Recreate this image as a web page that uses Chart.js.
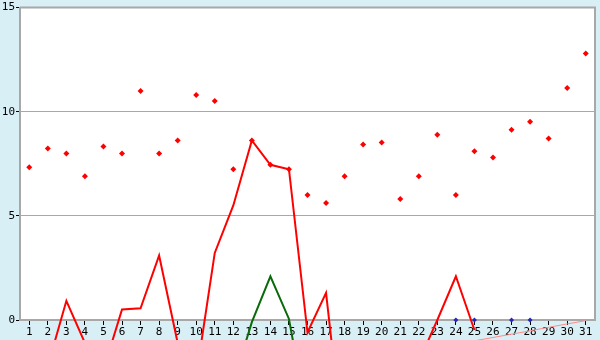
<!DOCTYPE html>
<html>
<head>
<meta charset="utf-8">
<script src="https://cdn.jsdelivr.net/npm/chart.js@4"></script>
<style>
  html, body { margin: 0; padding: 0; background: #d9eff6; }
  #wrap { width: 600px; height: 340px; }
</style>
</head>
<body>
<div id="wrap"><canvas id="chart" width="600" height="340"></canvas></div>
<script>
// data
const days = ['1','2','3','4','5','6','7','8','9','10','11','12','13','14','15','16','17','18','19','20','21','22','23','24','25','26','27','28','29','30','31'];
const redPoints = [7.33, 8.24, 8.0, 6.9, 8.33, 8.0, 11.0, 8.0, 8.62, 10.8, 10.52, 7.24, 8.62, 7.45, 7.24, 6.0, 5.62, 6.9, 8.43, 8.52, 5.81, 6.9, 8.9, 6.0, 8.1, 7.8, 9.14, 9.52, 8.71, 11.14, 12.8];
const redLine = [null, -2.2, 0.92, -1.1, -2.4, 0.51, 0.56, 3.1, -1.1, -2.7, 3.22, 5.5, 8.62, 7.45, 7.24, -0.6, 1.3, -6.6, -4, -3.5, -3, -2, 0.0, 2.1, -0.48, null, null, null, null, null, null];
const greenLine = [null, null, null, null, null, null, null, null, null, null, null, -3, -0.1, 2.1, 0.05, -4.8, null, null, null, null, null, null, null, null, null, null, null, null, null, null, null];
const bluePoints = [null, null, null, null, null, null, null, null, null, null, null, null, null, null, null, null, null, null, null, null, null, null, null, 0, 0, null, 0, 0, null, null, null];
const pinkLine = [null, null, null, null, null, null, null, null, null, null, null, null, null, null, null, null, null, null, null, null, null, null, null, null, -1.0, -0.84, -0.68, -0.52, -0.35, -0.19, -0.03];
const yTicks = [0, 5, 10, 15];

const axisGray = '#a8a8a8';
const tickFont = { family: 'DejaVu Sans Mono', size: 11 };

// white plot area and frame
const plotBox = {
  id: 'plotBox',
  beforeDraw(chart) {
    const { ctx, chartArea: a } = chart;
    ctx.save();
    ctx.fillStyle = '#ffffff';
    ctx.fillRect(a.left, a.top, a.right - a.left, a.bottom - a.top);
    ctx.restore();
  },
  afterDatasetsDraw(chart) {
    const { ctx, chartArea: a } = chart;
    ctx.save();
    ctx.strokeStyle = axisGray;
    ctx.lineWidth = 2;
    ctx.beginPath();
    ctx.moveTo(a.left, a.top);
    ctx.lineTo(a.right, a.top);
    ctx.lineTo(a.right, a.bottom);
    ctx.stroke();
    ctx.restore();
  }
};

new Chart(document.getElementById('chart'), {
  type: 'line',
  data: {
    labels: days,
    datasets: [
      {
        data: pinkLine,
        borderColor: '#ff8a8a',
        borderWidth: 1,
        pointRadius: 0,
        clip: false,
        order: 5
      },
      {
        data: redLine,
        borderColor: '#ff0000',
        borderWidth: 2,
        pointRadius: 0,
        clip: false,
        order: 4
      },
      {
        data: greenLine,
        borderColor: '#0a6a0a',
        borderWidth: 2,
        pointRadius: 0,
        clip: false,
        order: 3
      },
      {
        data: redPoints,
        showLine: false,
        pointStyle: 'rectRot',
        pointRadius: 3,
        pointBackgroundColor: '#ff0000',
        pointBorderColor: '#ff0000',
        pointBorderWidth: 0,
        order: 2
      },
      {
        data: bluePoints,
        showLine: false,
        pointStyle: 'rectRot',
        pointRadius: 2.5,
        pointBackgroundColor: '#2626b8',
        pointBorderColor: '#2626b8',
        pointBorderWidth: 0,
        clip: false,
        order: 1
      }
    ]
  },
  options: {
    responsive: false,
    animation: false,
    layout: { padding: { top: 5, right: 5, left: 0, bottom: 0 } },
    plugins: { legend: { display: false }, tooltip: { enabled: false } },
    scales: {
      x: {
        offset: true,
        border: { color: axisGray, width: 2 },
        grid: { drawOnChartArea: false, drawTicks: true, tickLength: 5, color: '#000000', offset: false },
        ticks: { color: '#000000', font: tickFont, padding: 1, maxRotation: 0, autoSkip: false },
        afterFit(scale) { scale.height = 20; }
      },
      y: {
        min: 0,
        max: 15,
        border: { color: axisGray, width: 2 },
        grid: { color: axisGray, lineWidth: 1, tickLength: 4, tickColor: '#000000' },
        afterBuildTicks(scale) { scale.ticks = yTicks.map(v => ({ value: v })); },
        ticks: { color: '#000000', font: tickFont, padding: 1 },
        afterFit(scale) { scale.width = 20; }
      }
    }
  },
  plugins: [plotBox]
});
</script>
</body>
</html>
